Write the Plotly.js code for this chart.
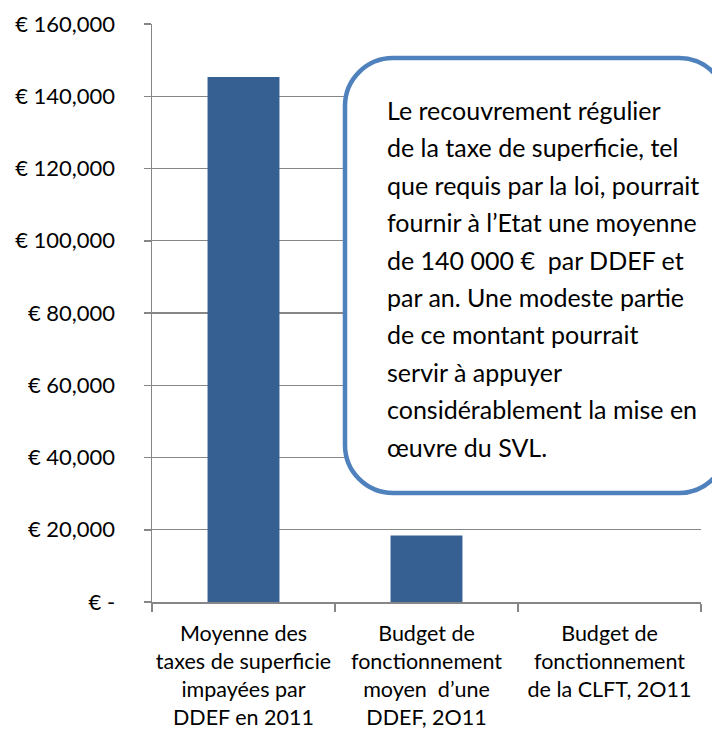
<!DOCTYPE html>
<html>
<head>
<meta charset="utf-8">
<script src="https://cdn.plot.ly/plotly-3.0.1.min.js"></script>
<style>html,body{margin:0;padding:0;background:#fff;}#chart{width:712px;height:733px;}</style>
</head>
<body>
<div id="chart"></div>
<script>
// ---- data ----
const categories = [
  "Moyenne des<br>taxes de superficie<br>impayées par<br>DDEF en 2011",
  "Budget de<br>fonctionnement<br>moyen&nbsp; d’une<br>DDEF, 2O11",
  "Budget de<br>fonctionnement<br>de la CLFT, 2O11"
];
const values = [145300, 18400, 0];
const yTickVals = [0, 20000, 40000, 60000, 80000, 100000, 120000, 140000, 160000];
const yTickText = ["€ -", "€ 20,000", "€ 40,000", "€ 60,000", "€ 80,000", "€ 100,000", "€ 120,000", "€ 140,000", "€ 160,000"];
const calloutLines = [
  "Le recouvrement régulier",
  "de la taxe de superficie, tel",
  "que requis par la loi, pourrait",
  "fournir à l’Etat une moyenne",
  "de 140 000 €&nbsp; par DDEF et",
  "par an. Une modeste partie",
  "de ce montant pourrait",
  "servir à appuyer",
  "considérablement la mise en",
  "œuvre du SVL."
];

// ---- layout geometry (pixels) ----
const FONT = "Lato, 'Open Sans', sans-serif";
const M = {l: 152, r: 11, t: 24, b: 131};
const W = 712 - M.l - M.r, H = 733 - M.t - M.b;
const px = x => (x - M.l) / W;
const py = y => (733 - M.b - y) / H;

// rounded rectangle callout
function roundRect(x0, y0, x1, y1, r) {
  const k = 0.5523 * r;
  const P = (x, y) => px(x) + "," + py(y);
  return "M" + P(x0 + r, y0) +
    " L" + P(x1 - r, y0) +
    " C" + P(x1 - r + k, y0) + " " + P(x1, y0 + r - k) + " " + P(x1, y0 + r) +
    " L" + P(x1, y1 - r) +
    " C" + P(x1, y1 - r + k) + " " + P(x1 - r + k, y1) + " " + P(x1 - r, y1) +
    " L" + P(x0 + r, y1) +
    " C" + P(x0 + r - k, y1) + " " + P(x0, y1 - r + k) + " " + P(x0, y1 - r) +
    " L" + P(x0, y0 + r) +
    " C" + P(x0, y0 + r - k) + " " + P(x0 + r - k, y0) + " " + P(x0 + r, y0) + " Z";
}

const firstBaseline = 118, lineStep = 37.4;
const annotations = calloutLines.map((t, i) => ({
  text: t, xref: "paper", yref: "paper",
  x: px(385), y: py(firstBaseline + i * lineStep - 8),
  xanchor: "left", yanchor: "middle", align: "left", showarrow: false,
  font: {family: FONT, size: 25, color: "#000"}
}));

const trace = {
  type: "bar", x: categories, y: values,
  marker: {color: "#366092", line: {width: 0}},
  hoverinfo: "skip"
};

const layout = {
  width: 712, height: 733,
  margin: M,
  paper_bgcolor: "#fff", plot_bgcolor: "#fff",
  bargap: 0.607,
  showlegend: false,
  font: {family: FONT, size: 22, color: "#000"},
  xaxis: {
    type: "category", showline: true, linecolor: "#868686", linewidth: 1.5,
    ticks: "outside", tickson: "boundaries", ticklen: 8, tickcolor: "#868686", tickwidth: 1.5,
    showgrid: false, zeroline: false, ticklabelstandoff: 12, tickangle: 0,
    tickfont: {family: FONT, size: 21.5, color: "#000"}
  },
  yaxis: {
    range: [0, 160000], tickvals: yTickVals, ticktext: yTickText,
    showline: true, linecolor: "#868686", linewidth: 1.5,
    ticks: "outside", ticklen: 7, tickcolor: "#868686", tickwidth: 1.5,
    showgrid: true, gridcolor: "#868686", gridwidth: 1.2, zeroline: false,
    ticklabelstandoff: 24,
    tickfont: {family: FONT, size: 22, color: "#000"}
  },
  shapes: [{
    type: "path", xref: "paper", yref: "paper", layer: "above",
    path: roundRect(345, 58, 727, 493, 48),
    fillcolor: "#ffffff", line: {color: "#4F81BD", width: 4.5}
  }],
  annotations: annotations
};

Plotly.newPlot("chart", [trace], layout, {displayModeBar: false, staticPlot: true});
</script>
</body>
</html>
